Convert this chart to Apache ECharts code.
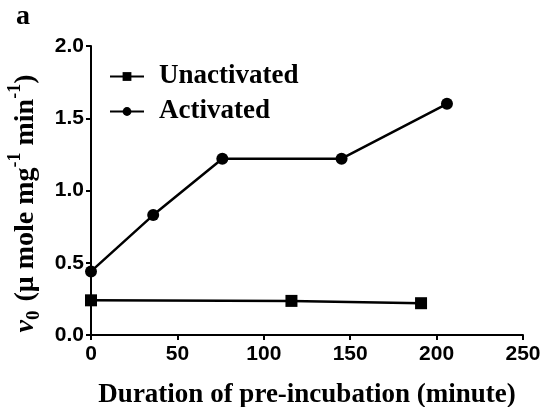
<!DOCTYPE html>
<html><head><meta charset="utf-8">
<script src="https://cdn.jsdelivr.net/npm/echarts@6/dist/echarts.min.js"></script>
<style>html,body{margin:0;padding:0;background:#fff}#c{width:544px;height:407px}</style>
</head><body><div id="c"></div>
<script>
const unactX = [0, 116, 191];
const unactY = [0.24, 0.236, 0.22];
const actX = [0, 36, 76, 145, 206];
const actY = [0.44, 0.83, 1.22, 1.22, 1.60];
const xTicks = [0, 50, 100, 150, 200, 250];
const yTicks = [0.0, 0.5, 1.0, 1.5, 2.0];

const serif = '"Liberation Serif","Times New Roman",serif';
const sans = '"Liberation Sans",Arial,sans-serif';
const chart = echarts.init(document.getElementById('c'));
const axisCommon = {
  axisLine: {show: true, lineStyle: {color: '#000', width: 2}},
  axisTick: {show: true, inside: false, length: 5, lineStyle: {color: '#000', width: 2}},
  splitLine: {show: false},
  axisLabel: {color: '#000', fontFamily: sans, fontWeight: 'bold', fontSize: 21}
};
chart.setOption({
  animation: false,
  backgroundColor: '#fff',
  graphic: [{type: 'text', left: 16, top: 3, style: {text: 'a', font: 'bold 28px ' + serif, fill: '#000'}}],
  grid: {left: 91, right: 21, top: 46, bottom: 72, containLabel: false, outerBoundsMode: 'none'},
  legend: {
    orient: 'vertical', left: 104, top: 58, itemGap: 8, itemWidth: 34, itemHeight: 11,
    textStyle: {fontFamily: serif, fontWeight: 'bold', fontSize: 27, color: '#000', padding: [0,0,0,10]},
    data: ['Unactivated', 'Activated']
  },
  xAxis: Object.assign({
    type: 'value', min: xTicks[0], max: xTicks[xTicks.length - 1], interval: 50,
    name: 'Duration of pre-incubation (minute)', nameLocation: 'middle', nameGap: 47,
    nameTextStyle: {fontFamily: serif, fontWeight: 'bold', fontSize: 27, color: '#000'}
  }, axisCommon, {axisLabel: Object.assign({}, axisCommon.axisLabel, {margin: 9})}),
  yAxis: Object.assign({
    type: 'value', min: yTicks[0], max: yTicks[yTicks.length - 1], interval: 0.5,
    name: '{v|v}{sub|0}{t| (μ mole mg}{sup|-1}{t| min}{sup|-1}{t|)}',
    nameLocation: 'middle', nameGap: 50, nameRotate: 90,
    nameTextStyle: {
      color: '#000', padding: [0, 26, 0, 0],
      rich: {
        v: {fontFamily: serif, fontWeight: 'bold', fontStyle: 'italic', fontSize: 28, color: '#000', verticalAlign: 'bottom', lineHeight: 34},
        sub: {fontFamily: serif, fontWeight: 'bold', fontSize: 19, color: '#000', verticalAlign: 'bottom', lineHeight: 34, padding: [0,2,-4,0]},
        t: {fontFamily: serif, fontWeight: 'bold', fontSize: 28, color: '#000', verticalAlign: 'bottom', lineHeight: 34},
        sup: {fontFamily: serif, fontWeight: 'bold', fontSize: 18, color: '#000', verticalAlign: 'top', lineHeight: 34}
      }
    }
  }, axisCommon, {axisLabel: Object.assign({}, axisCommon.axisLabel, {margin: 7, formatter: v => v.toFixed(1)})}),
  series: [
    {name: 'Unactivated', type: 'line', data: unactX.map((x, i) => [x, unactY[i]]),
     symbol: 'rect', symbolSize: 12, lineStyle: {color: '#000', width: 2.5}, itemStyle: {color: '#000'}},
    {name: 'Activated', type: 'line', data: actX.map((x, i) => [x, actY[i]]),
     symbol: 'circle', symbolSize: 12, lineStyle: {color: '#000', width: 2.5}, itemStyle: {color: '#000'}}
  ]
});
</script></body></html>
